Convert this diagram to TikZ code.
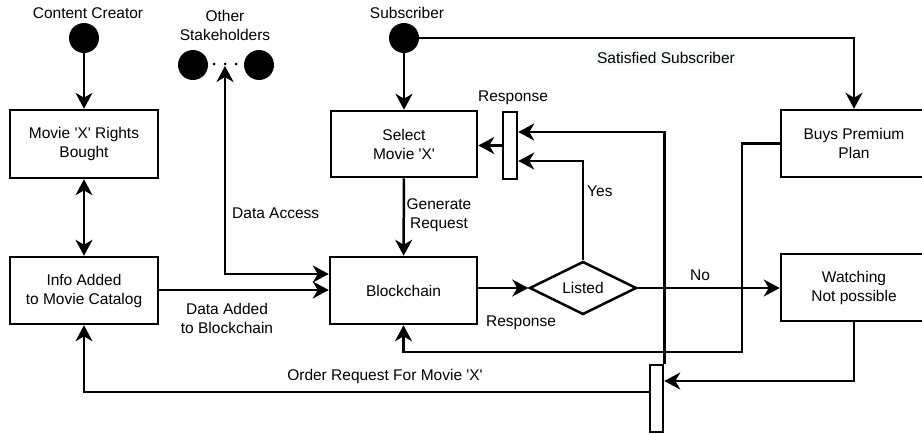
\documentclass[tikz,border=0pt]{standalone}
\usepackage{fontspec}
\setmainfont{Liberation Sans}
\usetikzlibrary{arrows.meta,shapes.geometric,calc}
\definecolor{lblbg}{HTML}{F8F9FA}
\newcommand{\sq}{\textquotesingle}
\begin{document}
\begin{tikzpicture}[x=1pt,y=-1pt,
  every node/.style={font=\fontsize{15.5}{19}\selectfont, align=center, inner sep=0pt},
  box/.style={draw, line width=2.5pt, fill=white, minimum width=146pt, minimum height=67pt},
  dot/.style={circle, fill=black, minimum size=30pt},
  tiny/.style={circle, fill=black, minimum size=3pt},
  bar/.style={draw, line width=2.5pt, fill=white, minimum width=13pt, minimum height=67pt},
  decision/.style={diamond, draw, line width=2.5pt, fill=white, aspect=2, minimum width=107pt, minimum height=53pt},
  conn/.style={line width=2.5pt, -{Stealth[length=16pt,width=17pt,inset=5pt]}},
  bconn/.style={line width=2.5pt, {Stealth[length=16pt,width=17pt,inset=5pt]}-{Stealth[length=16pt,width=17pt,inset=5pt]}},
]
\useasboundingbox (0,0) rectangle (922,434);
\clip (0,0) rectangle (922,434);

% actors
\node (lcc) at (88,13) {Content Creator};
\node[dot] (cc) at (84,38) {};
\node (losh) at (225,25) {Other\\Stakeholders};
\node[dot] (sh1) at (193,65) {};
\node[dot] (sh2) at (259,65) {};
\node[tiny] (d1) at (214,64) {};
\node[tiny] (d2) at (225,64) {};
\node[tiny] (d3) at (236,64) {};
\coordinate (sh) at (225,66);
\node (lsub) at (407,13) {Subscriber};
\node[dot] (sub) at (404,38) {};

% boxes
\node[box, minimum width=148pt, minimum height=68pt] (rights) at (84,144) {Movie \sq X\sq{} Rights\\Bought};
\node[box, minimum width=148pt] (info) at (84,290.5) {Info Added\\to Movie Catalog};
\node[box, minimum width=147pt] (bc) at (403.5,290.5) {Blockchain};
\node[box, minimum height=66pt] (select) at (404,144) {Select\\Movie \sq X\sq};
\node[box] (buys) at (854,143.5) {Buys Premium\\Plan};
\node[box] (watch) at (854,287.5) {Watching\\Not possible};
\node[decision] (listed) at (583,288) {Listed};
\node[bar, minimum width=14pt] (topbar) at (510,145.5) {};
\node[bar] (botbar) at (656.5,398.5) {};

% connectors
\draw[conn] (cc) -- (rights);
\draw[bconn] (rights) -- (info);
\draw[conn] (info.east |- 0,290) -- (bc.west |- 0,290);
\coordinate (daCorner) at (225,274);
\draw[bconn] (sh) -- (daCorner) -- (daCorner -| bc.west);
\draw[conn] (sub) -- (select);
\draw[conn] (sub.east) -| (buys.north);
\draw[conn] (select) -- (bc);
\draw[conn] (bc.east |- listed.west) -- (listed.west);
\draw[conn] (listed.north) |- ($(topbar.east)+(0,15.5)$);
\draw[conn] (topbar.west) -- (topbar.west -| select.east);
\draw[conn] (listed.east) -- (listed.east -| watch.west);
\coordinate (respX) at (742,352);
\draw[conn] (buys.west) -| (respX) -| (bc.south);
\draw[conn] (botbar.north east) |- ($(topbar.east)+(0,-13.5)$);
\draw[conn] (watch.south) |- ($(botbar.east)+(0,-17.5)$);
\draw[conn] ($(botbar.west)+(0,-6.5)$) -| (info.south);

% labels
\node[fill=lblbg, inner sep=1.5pt] (lsat) at (666,58) {Satisfied Subscriber};
\node (lresp1) at (513,98) {Response};
\node[anchor=west] (lyes) at (587,191) {Yes};
\node (lgen) at (439,215.5) {Generate\\Request};
\node[anchor=west] (lda) at (232,213) {Data Access};
\node (ldab) at (227,318.5) {Data Added\\to Blockchain};
\node (lno) at (700,275) {No};
\node (lresp2) at (521,323) {Response};
\node (lord) at (385,376) {Order Request For Movie \sq X\sq};
\end{tikzpicture}
\end{document}
